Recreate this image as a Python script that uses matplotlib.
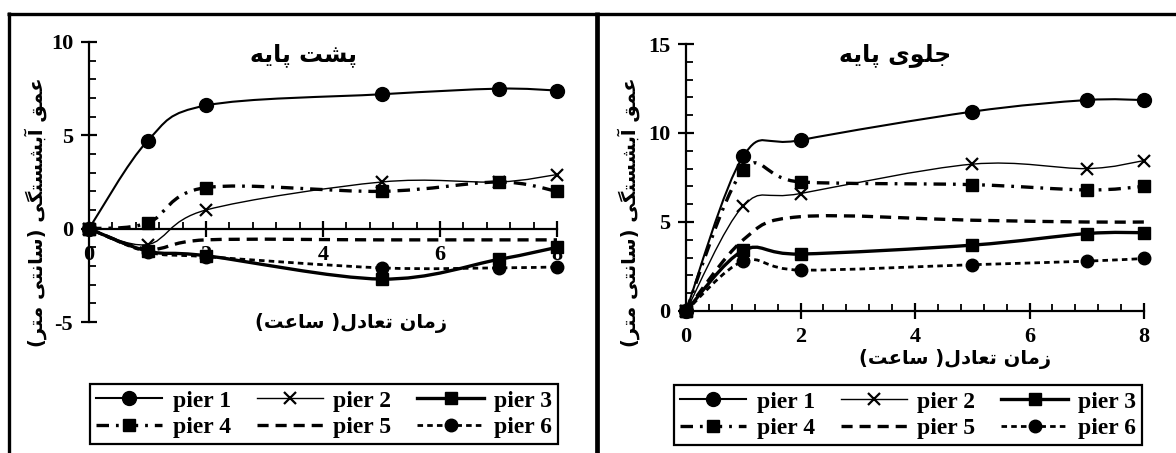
import numpy as np
import matplotlib
matplotlib.use('Agg')
import matplotlib.pyplot as plt
from matplotlib.path import Path
from matplotlib.patches import PathPatch
from matplotlib.lines import Line2D
from matplotlib.ticker import MultipleLocator

plt.rcParams['font.family'] = 'Liberation Serif'
plt.rcParams['font.weight'] = 'bold'
plt.rcParams['axes.unicode_minus'] = False
plt.rcParams['lines.scale_dashes'] = False

# --- data ---
hours = [0, 1, 2, 5, 7, 8]
pier_names = ['pier 1', 'pier 2', 'pier 3', 'pier 4', 'pier 5', 'pier 6']

# پشت پایه (back of pier)
back_p1 = [0, 4.7, 6.6, 7.2, 7.5, 7.4]
back_p2 = [0, -0.85, 1.0, 2.5, 2.5, 2.9]
back_p3 = [0, -1.2, -1.45, -2.7, -1.65, -1.0]
back_p4 = [0, 0.3, 2.2, 2.0, 2.5, 2.0]
back_p5 = [0, -1.1, -0.6, -0.6, -0.6, -0.6]
back_p6 = [0, -1.25, -1.5, -2.1, -2.1, -2.05]

# جلوی پایه (front of pier)
front_p1 = [0, 8.7, 9.6, 11.2, 11.85, 11.85]
front_p2 = [0, 5.9, 6.6, 8.25, 8.0, 8.45]
front_p3 = [0, 3.4, 3.2, 3.7, 4.35, 4.4]
front_p4 = [0, 7.9, 7.25, 7.1, 6.8, 7.0]
front_p5 = [0, 4.0, 5.3, 5.1, 5.0, 5.0]
front_p6 = [0, 2.8, 2.3, 2.6, 2.8, 2.95]

styles = [
    dict(ls='-', lw=1.5, marker='o', ms=10, mew=1),
    dict(ls='-', lw=1.0, marker='x', ms=9, mew=1.6),
    dict(ls='-', lw=2.4, marker='s', ms=9, mew=1),
    dict(ls=(0, (9, 5, 2, 5)), lw=2.4, marker='s', ms=9, mew=1),
    dict(ls=(0, (8, 5)), lw=2.4, marker=None, ms=0, mew=1),
    dict(ls=(0, (4, 3)), lw=2.0, marker='o', ms=9, mew=1),
]

# --- persian text shaping (matplotlib has no RTL/joining support) ---
FORMS = {
    'ا': ('\uFE8D', '\uFE8E', None, None),
    'آ': ('\uFE81', '\uFE82', None, None),
    'ب': ('\uFE8F', '\uFE90', '\uFE91', '\uFE92'),
    'پ': ('\uFB56', '\uFB57', '\uFB58', '\uFB59'),
    'ت': ('\uFE95', '\uFE96', '\uFE97', '\uFE98'),
    'ج': ('\uFE9D', '\uFE9E', '\uFE9F', '\uFEA0'),
    'د': ('\uFEA9', '\uFEAA', None, None),
    'ر': ('\uFEAD', '\uFEAE', None, None),
    'ز': ('\uFEAF', '\uFEB0', None, None),
    'س': ('\uFEB1', '\uFEB2', '\uFEB3', '\uFEB4'),
    'ش': ('\uFEB5', '\uFEB6', '\uFEB7', '\uFEB8'),
    'ع': ('\uFEC9', '\uFECA', '\uFECB', '\uFECC'),
    'ق': ('\uFED5', '\uFED6', '\uFED7', '\uFED8'),
    'گ': ('\uFB92', '\uFB93', '\uFB94', '\uFB95'),
    'ل': ('\uFEDD', '\uFEDE', '\uFEDF', '\uFEE0'),
    'م': ('\uFEE1', '\uFEE2', '\uFEE3', '\uFEE4'),
    'ن': ('\uFEE5', '\uFEE6', '\uFEE7', '\uFEE8'),
    'ه': ('\uFEE9', '\uFEEA', '\uFEEB', '\uFEEC'),
    'و': ('\uFEED', '\uFEEE', None, None),
    'ی': ('\uFBFC', '\uFBFD', '\uFBFE', '\uFBFF'),
}


def fa(text):
    out = []
    for i, c in enumerate(text):
        if c not in FORMS:
            out.append(c)
            continue
        iso, fin, ini, med = FORMS[c]
        prev = text[i - 1] if i > 0 else ''
        nxt = text[i + 1] if i + 1 < len(text) else ''
        jp = prev in FORMS and FORMS[prev][2] is not None
        jn = ini is not None and nxt in FORMS
        if jp and jn:
            out.append(med)
        elif jp:
            out.append(fin)
        elif jn:
            out.append(ini)
        else:
            out.append(iso)
    return ''.join(out)[::-1].translate(str.maketrans('()', ')('))


def smooth_path(x, y):
    pts = np.column_stack([x, y]).astype(float)
    verts = [pts[0]]
    codes = [Path.MOVETO]
    for i in range(len(pts) - 1):
        p0 = pts[i - 1] if i > 0 else pts[i]
        p3 = pts[i + 2] if i + 2 < len(pts) else pts[i + 1]
        verts += [pts[i] + (pts[i + 1] - p0) / 6,
                  pts[i + 1] - (p3 - pts[i]) / 6,
                  pts[i + 1]]
        codes += [Path.CURVE4] * 3
    return Path(verts, codes)


W, H = 1176, 453
fig = plt.figure(figsize=(W / 100, H / 100), dpi=100)
fa_font = dict(family='DejaVu Sans', fontweight='bold')


def draw_panel(ax, series, ylim, title, title_xy, xlab_xy, ylab_x, leg_center):
    for vals, st in zip(series, styles):
        ax.add_patch(PathPatch(smooth_path(hours, vals), fill=False, color='k',
                               lw=st['lw'], ls=st['ls'], zorder=3,
                               capstyle='butt', clip_on=False))
        if st['marker']:
            ax.plot(hours, vals, ls='none', marker=st['marker'], ms=st['ms'],
                    mew=st['mew'], color='k', zorder=4, clip_on=False)
    ax.set_xlim(0, 8)
    ax.set_ylim(*ylim)
    ax.spines[['top', 'right']].set_visible(False)
    ax.spines['bottom'].set_position(('data', 0))
    for s in ('left', 'bottom'):
        ax.spines[s].set_linewidth(1.6)
    ax.xaxis.set_major_locator(MultipleLocator(2))
    ax.xaxis.set_minor_locator(MultipleLocator(0.4))
    ax.yaxis.set_major_locator(MultipleLocator(5))
    ax.yaxis.set_minor_locator(MultipleLocator(1))
    ax.tick_params(which='major', direction='inout', length=11, width=1.6,
                   labelsize=16, pad=6)
    ax.tick_params(which='minor', direction='in', length=5, width=1.3)
    ax.set_facecolor('none')

    fig.text(title_xy[0] / W, 1 - title_xy[1] / H, fa(title), fontsize=17,
             ha='center', va='center', **fa_font)
    fig.text(xlab_xy[0] / W, 1 - xlab_xy[1] / H, fa('زمان تعادل( ساعت)'),
             fontsize=14, ha='center', va='center', **fa_font)
    fig.text(ylab_x / W, 1 - 212 / H, fa('عمق آبشستگی (سانتی متر)'),
             fontsize=14, rotation=90, ha='center', va='center', **fa_font)

    handles = [Line2D([], [], color='k', ls=st['ls'], lw=st['lw'],
                      marker=st['marker'], ms=st['ms'], mew=st['mew'])
               for st in styles]
    order = [0, 3, 1, 4, 2, 5]
    leg = fig.legend([handles[i] for i in order], [pier_names[i] for i in order],
                     ncol=3, loc='center',
                     bbox_to_anchor=(leg_center[0] / W, 1 - leg_center[1] / H),
                     fontsize=17, handlelength=2.8, handletextpad=0.45,
                     columnspacing=1.1, borderpad=0.25, labelspacing=0.2,
                     borderaxespad=0, fancybox=False, framealpha=1,
                     edgecolor='k')
    leg.get_frame().set_linewidth(1.6)


ax1 = fig.add_axes([89 / W, 1 - 322 / H, 468 / W, 280 / H])
draw_panel(ax1, [back_p1, back_p2, back_p3, back_p4, back_p5, back_p6],
           (-5, 10), 'پشت پایه', (303, 55), (351, 323), 36, (324, 414))

ax2 = fig.add_axes([686 / W, 1 - 311 / H, 458 / W, 267 / H])
draw_panel(ax2, [front_p1, front_p2, front_p3, front_p4, front_p5, front_p6],
           (0, 15), 'جلوی پایه', (895, 55), (955, 359), 629, (908, 415))

# panel frames
for xs, ys, lw in [([7, W], [13.5, 13.5], 2.4),
                   ([8.5, 8.5], [12, H], 2.4),
                   ([597, 597], [12, H], 3.4)]:
    fig.add_artist(Line2D([x / W for x in xs], [1 - y / H for y in ys],
                          color='k', lw=lw, solid_capstyle='butt'))

fig.savefig('out.png', dpi=100)
